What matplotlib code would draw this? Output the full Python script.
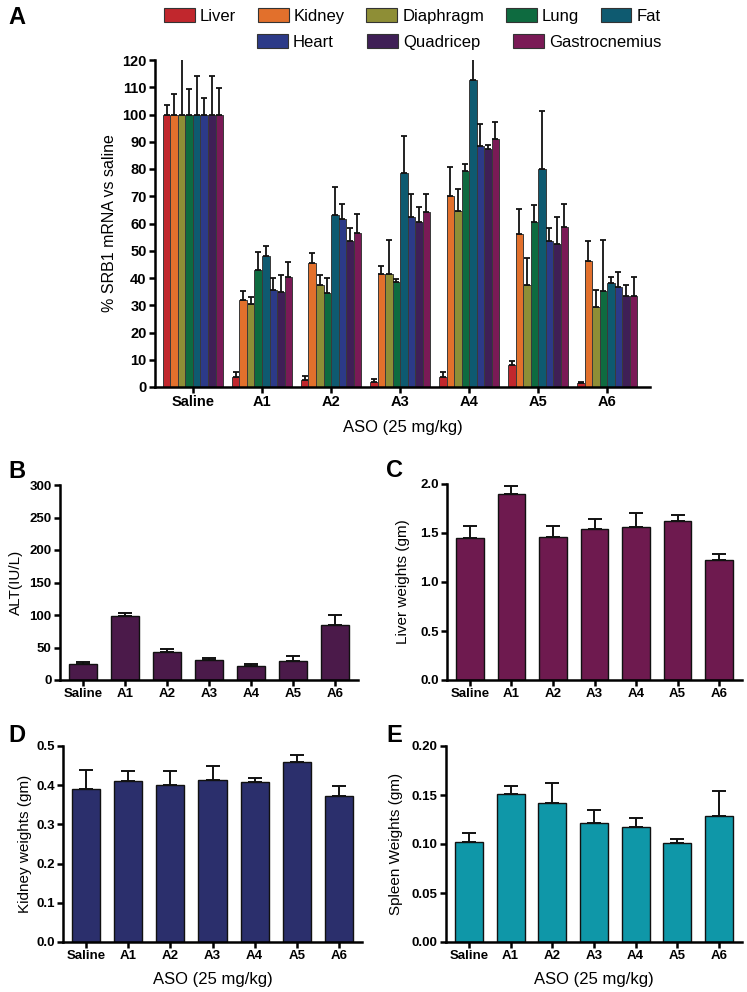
import matplotlib
matplotlib.use("Agg")
import matplotlib.pyplot as plt
import numpy as np
from matplotlib.ticker import FormatStrFormatter

plt.rcParams['font.family'] = ['Liberation Sans', 'DejaVu Sans']

# ---------------- data ----------------
groups = ['Saline', 'A1', 'A2', 'A3', 'A4', 'A5', 'A6']
tissues = ['Liver', 'Kidney', 'Diaphragm', 'Lung', 'Fat', 'Heart', 'Quadricep', 'Gastrocnemius']
tissue_colors = ['#C1272D', '#E2702C', '#8E8E36', '#0E6B40', '#0E5A70', '#2C3A88', '#3F1F56', '#7A1A56']

liver_mean = [100, 3.5, 2.5, 2.0, 3.5, 8.0, 1.5]
liver_err = [3.4, 2.0, 1.5, 1.0, 2.0, 1.5, 0.5]
kidney_mean = [100, 32.0, 45.5, 41.5, 70.1, 56.0, 46.3]
kidney_err = [7.7, 3.1, 3.5, 3.0, 10.6, 9.4, 7.4]
diaphragm_mean = [100, 30.6, 37.5, 41.5, 64.7, 37.6, 29.4]
diaphragm_err = [20.5, 2.4, 3.5, 12.5, 8.1, 9.9, 6.1]
lung_mean = [100, 42.9, 34.5, 38.5, 79.4, 60.7, 35.1]
lung_err = [9.5, 6.7, 5.5, 1.0, 2.5, 6.0, 18.8]
fat_mean = [100, 48.0, 63.0, 78.5, 112.5, 80.1, 38.0]
fat_err = [14.0, 3.7, 10.5, 13.5, 8.1, 21.1, 2.4]
heart_mean = [100, 35.5, 61.5, 62.5, 88.3, 53.6, 36.7]
heart_err = [6.0, 4.5, 5.5, 8.3, 8.1, 4.6, 5.6]
quad_mean = [100, 35.0, 53.5, 60.4, 87.5, 52.5, 33.4]
quad_err = [14.0, 6.0, 5.0, 5.6, 1.2, 9.8, 3.9]
gastro_mean = [100, 40.5, 56.5, 64.4, 91.0, 58.8, 33.4]
gastro_err = [9.8, 5.5, 7.0, 6.4, 6.3, 8.3, 6.8]

alt_mean = [24.5, 99, 43, 31, 22, 29.5, 85]
alt_err = [3.0, 3.5, 5.0, 3.5, 2.0, 7.0, 15.0]
liverw_mean = [1.447, 1.898, 1.458, 1.542, 1.566, 1.624, 1.227]
liverw_err = [0.12, 0.085, 0.118, 0.10, 0.136, 0.06, 0.058]
kidneyw_mean = [0.390, 0.410, 0.400, 0.413, 0.408, 0.460, 0.373]
kidneyw_err = [0.049, 0.026, 0.036, 0.037, 0.011, 0.017, 0.026]
spleenw_mean = [0.1017, 0.151, 0.142, 0.1217, 0.1176, 0.1007, 0.1288]
spleenw_err = [0.0093, 0.008, 0.020, 0.0129, 0.0094, 0.004, 0.0254]

means_A = [liver_mean, kidney_mean, diaphragm_mean, lung_mean, fat_mean, heart_mean, quad_mean, gastro_mean]
errs_A = [liver_err, kidney_err, diaphragm_err, lung_err, fat_err, heart_err, quad_err, gastro_err]

# ---------------- figure ----------------
W, H = 747, 992
fig = plt.figure(figsize=(W / 100, H / 100), dpi=100)


def px_axes(left, top, right, bottom):
    return fig.add_axes([left / W, 1 - bottom / H, (right - left) / W, (bottom - top) / H])


def style_axes(ax, lw=1.6):
    for s in ['top', 'right']:
        ax.spines[s].set_visible(False)
    for s in ['left', 'bottom']:
        ax.spines[s].set_linewidth(lw)
    ax.tick_params(direction='out', length=4, width=lw, pad=2)


# ---- Panel A ----
axA = px_axes(155, 60, 650, 387)
x = np.arange(len(groups))
bw = 0.109
for i, (t, c) in enumerate(zip(tissues, tissue_colors)):
    off = (i - 3.5) * bw
    axA.bar(x + off, means_A[i], width=bw, color=c, edgecolor='#3a3a3a', linewidth=0.7,
            yerr=[np.zeros(len(groups)), errs_A[i]],
            error_kw=dict(ecolor='#111111', elinewidth=1.3, capsize=2, capthick=1.3),
            label=t)
axA.set_xlim(-0.55, 6.62)
axA.set_ylim(0, 120)
axA.set_yticks(np.arange(0, 121, 10))
axA.set_xticks(x)
axA.set_xticklabels(groups)
style_axes(axA, 1.8)
for lab in axA.get_xticklabels() + axA.get_yticklabels():
    lab.set_fontweight('bold')
    lab.set_fontsize(10.5)
axA.set_ylabel('% SRB1 mRNA vs saline', fontsize=11.5)
axA.yaxis.set_label_coords(-0.077, 0.5)
axA.set_xlabel('ASO (25 mg/kg)', fontsize=12, labelpad=8)

handles, labels = axA.get_legend_handles_labels()
leg1 = fig.legend(handles[:5], labels[:5], ncol=5, loc='center left',
                  bbox_to_anchor=(164 / W, 1 - 16 / H), frameon=False, fontsize=12,
                  handlelength=1.85, handleheight=0.85, handletextpad=0.3, columnspacing=1.3,
                  borderaxespad=0, borderpad=0)
leg2 = fig.legend(handles[5:], labels[5:], ncol=3, loc='center left',
                  bbox_to_anchor=(257 / W, 1 - 42 / H), frameon=False, fontsize=12,
                  handlelength=1.85, handleheight=0.85, handletextpad=0.3, columnspacing=2.0,
                  borderaxespad=0, borderpad=0)
for lg in (leg1, leg2):
    for p in lg.get_patches():
        p.set_edgecolor('#333333')
        p.set_linewidth(0.8)


def small_panel(box, means, errs, color, ylim, ticks, fmt, ylabel, ycoord, xlabel=None):
    ax = px_axes(*box)
    ax.bar(x, means, width=0.667, color=color, edgecolor='#111111', linewidth=1.0,
           yerr=[np.zeros(len(groups)), errs],
           error_kw=dict(ecolor='#111111', elinewidth=1.4, capsize=5, capthick=1.4))
    ax.set_xlim(-0.55, 6.55)
    ax.set_ylim(*ylim)
    ax.set_yticks(ticks)
    ax.yaxis.set_major_formatter(FormatStrFormatter(fmt))
    ax.set_xticks(x)
    ax.set_xticklabels(groups)
    style_axes(ax, 1.8)
    for lab in ax.get_xticklabels() + ax.get_yticklabels():
        lab.set_fontweight('bold')
        lab.set_fontsize(9.5)
    ax.set_ylabel(ylabel, fontsize=11)
    ax.yaxis.set_label_coords(ycoord, 0.5)
    if xlabel:
        ax.set_xlabel(xlabel, fontsize=12, labelpad=7)
    return ax


small_panel((60, 485, 358, 680), alt_mean, alt_err, '#4B1A4A', (0, 300), np.arange(0, 301, 50), '%d',
            'ALT(IU/L)', -0.125)
small_panel((447, 484, 742, 680), liverw_mean, liverw_err, '#6E1A4F', (0, 2.0), np.arange(0, 2.01, 0.5), '%.1f',
            'Liver weights (gm)', -0.125)
small_panel((63, 746, 362, 942), kidneyw_mean, kidneyw_err, '#2B2F6C', (0, 0.5), np.arange(0, 0.51, 0.1), '%.1f',
            'Kidney weights (gm)', -0.105, 'ASO (25 mg/kg)')
small_panel((446, 746, 742, 942), spleenw_mean, spleenw_err, '#0F97A8', (0, 0.2), np.arange(0, 0.201, 0.05), '%.2f',
            'Spleen Weights (gm)', -0.145, 'ASO (25 mg/kg)')

# panel letters
for letter, (lx, ly) in zip('ABCDE', [(8, 18), (8, 472), (386, 470), (8, 735), (386, 735)]):
    fig.text(lx / W, 1 - ly / H, letter, fontsize=17, fontweight='bold', ha='left', va='center')

fig.savefig('out.png', dpi=100)
